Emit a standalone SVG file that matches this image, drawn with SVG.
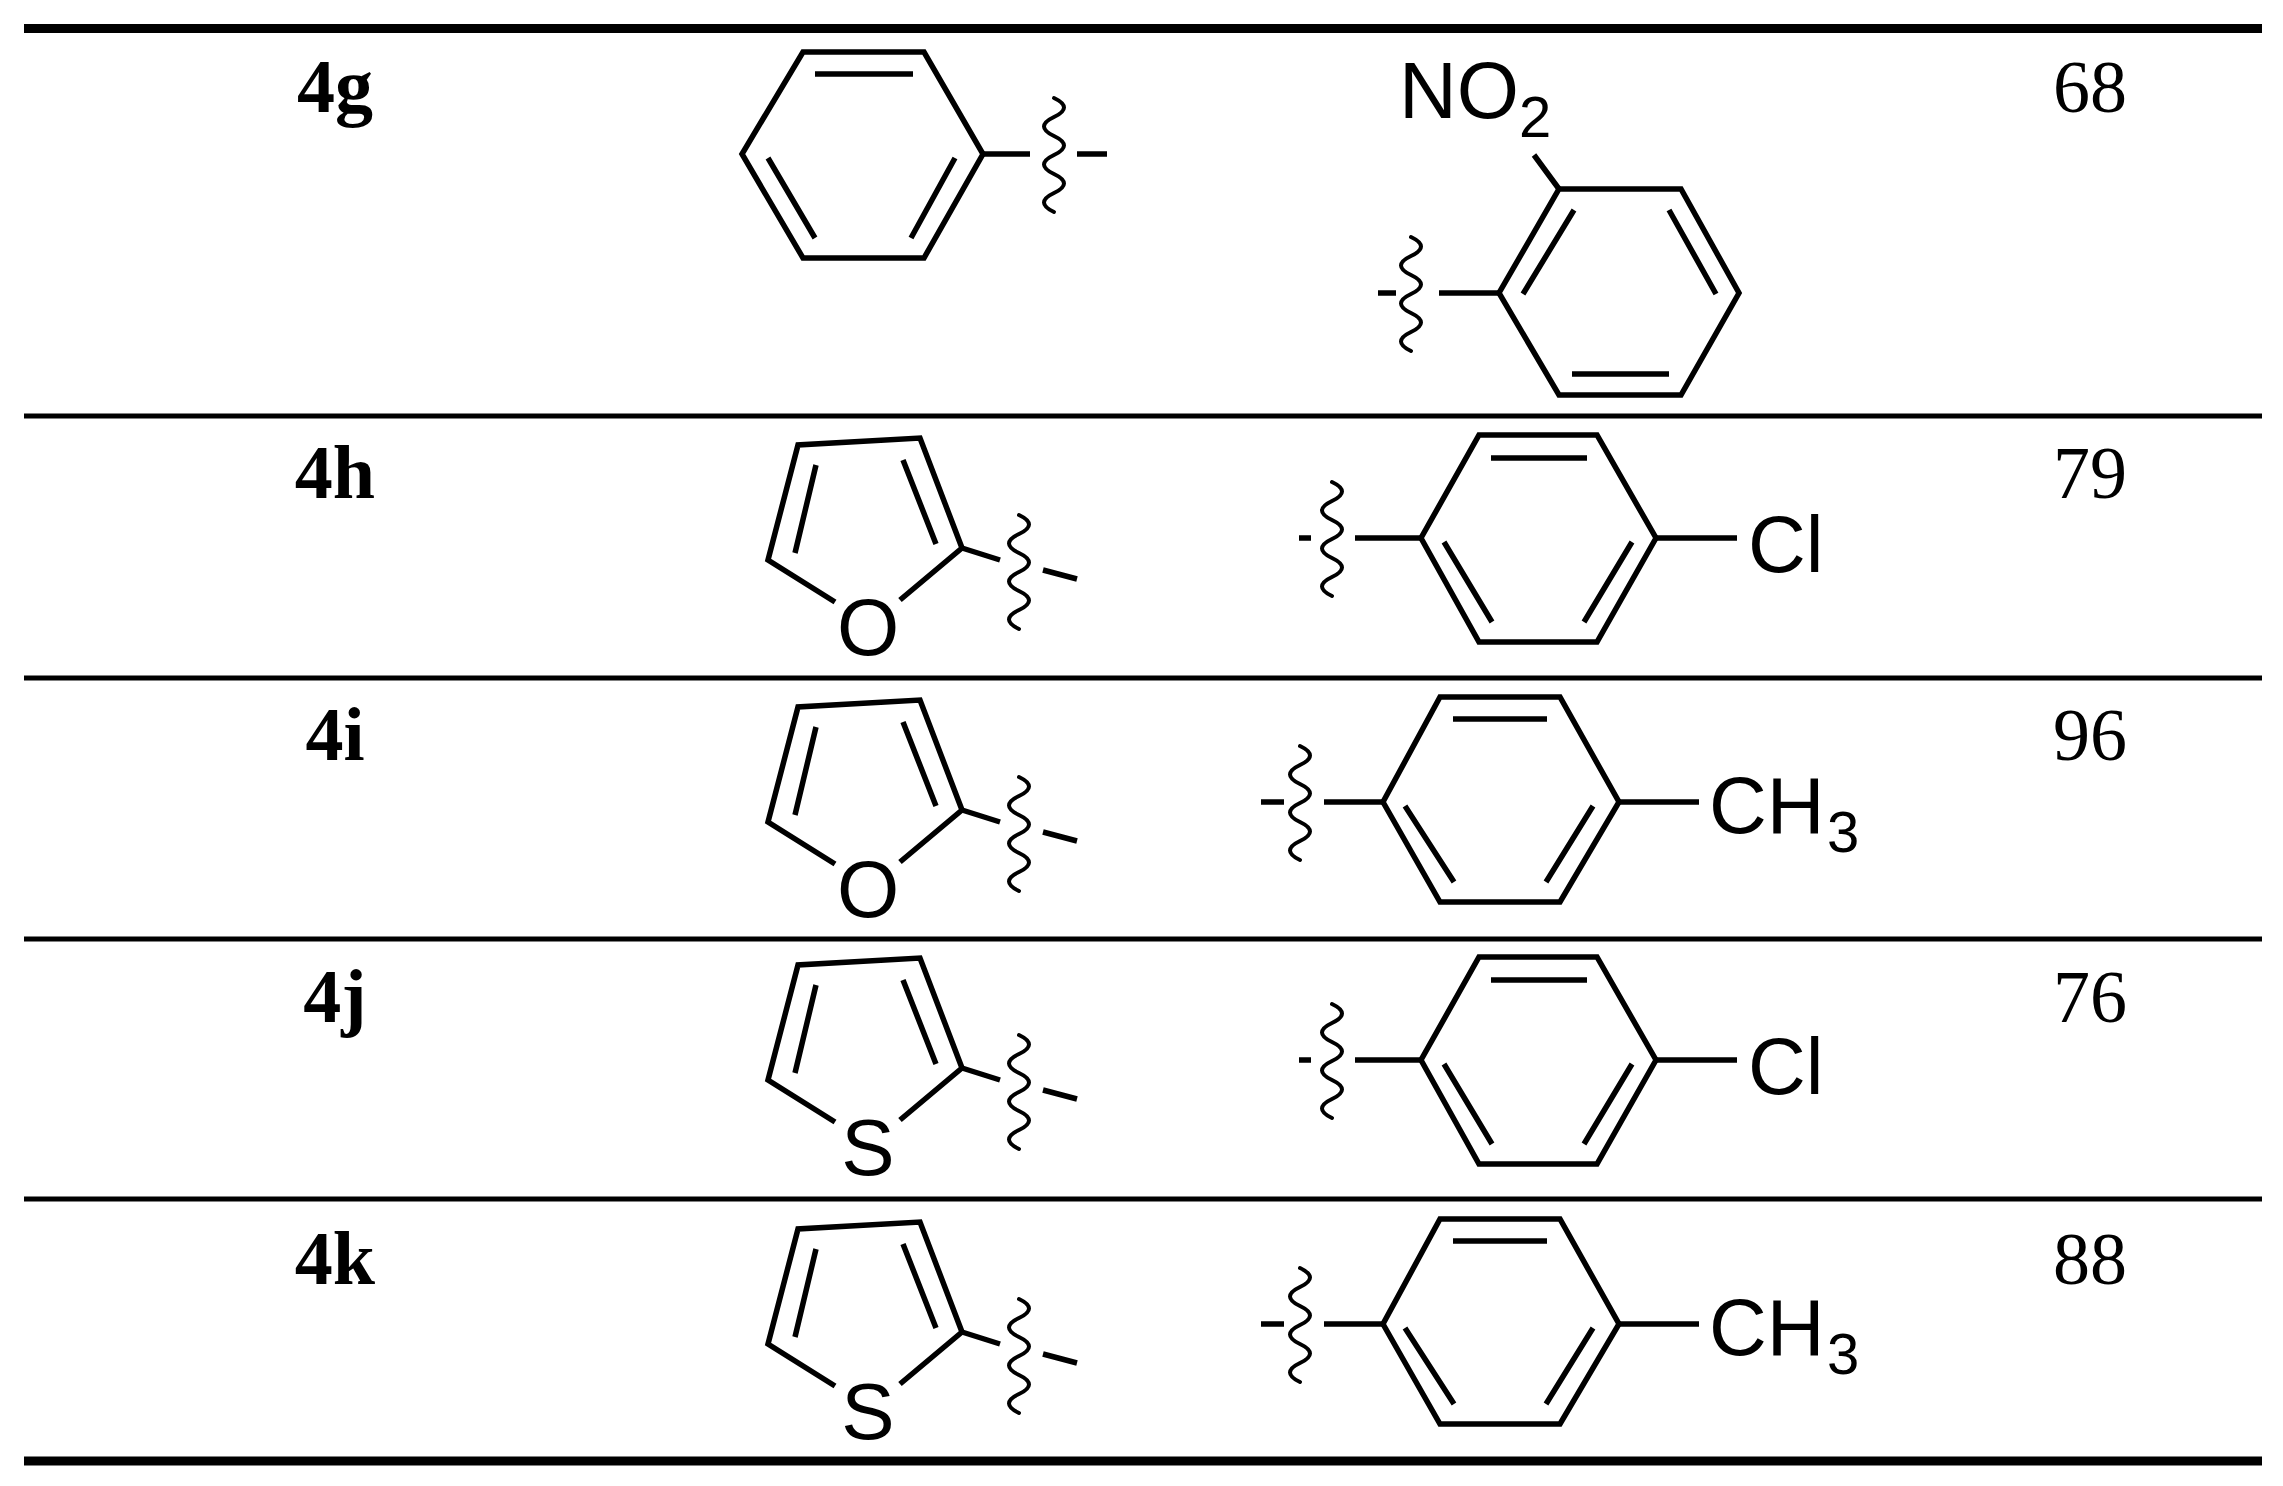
<svg xmlns="http://www.w3.org/2000/svg" xmlns:xlink="http://www.w3.org/1999/xlink" width="2283" height="1486" viewBox="0 0 2283 1486">
<style>
.b{fill:none;stroke:#000;stroke-width:5.5;stroke-linejoin:miter;stroke-linecap:butt}
.w{fill:none;stroke:#000;stroke-width:4;stroke-linecap:round}
.lab{font-family:"Liberation Serif",serif;font-weight:bold;font-size:76px;text-anchor:middle}
.num{font-family:"Liberation Serif",serif;font-size:74px;text-anchor:middle}
.at{font-family:"Liberation Sans",Arial,sans-serif;font-size:80px}
.sub{font-family:"Liberation Sans",Arial,sans-serif;font-size:58px}
</style>
<defs>
<path id="sq" class="w" d="M-3,0 q 20 9.5 0 19 t 0 19 t 0 19 t 0 19 t 0 19 t 0 19"/>
<g id="five">
<path class="b" d="M835,602 L768,560 L798,445 L920,438 L962,548 L900,600"/>
<path class="b" d="M816,465 L795,553 M903,460 L936,544 M962,548 L1000,560 M1043,570 L1077,579"/>
<use xlink:href="#sq" x="1022" y="515"/>
</g>
<g id="ringCl">
<polygon class="b" points="1479,435 1597,435 1656,538 1597,642 1479,642 1421,538"/>
<path class="b" d="M1491,458 L1587,458 M1444,542 L1492,622 M1632,542 L1584,622 M1355,538 L1421,538 M1299,538 L1311,538 M1656,538 L1737,538"/>
<use xlink:href="#sq" x="1335" y="482"/>
<text class="at" x="1748" y="572">Cl</text>
</g>
<g id="ringMe">
<polygon class="b" points="1440,697 1560,697 1619,802 1560,902 1440,902 1383,802"/>
<path class="b" d="M1453,719 L1547,719 M1405,806 L1454,882 M1593,806 L1546,882 M1324,802 L1383,802 M1261,802 L1284,802 M1619,802 L1699,802"/>
<use xlink:href="#sq" x="1303" y="746"/>
<text class="at" x="1709" y="833">CH</text>
<text class="sub" x="1827" y="852">3</text>
</g>
</defs>

<g id="rules">
<line x1="24" y1="28.5" x2="2262" y2="28.5" stroke="#000" stroke-width="9"/>
<line x1="24" y1="416" x2="2262" y2="416" stroke="#000" stroke-width="5"/>
<line x1="24" y1="678" x2="2262" y2="678" stroke="#000" stroke-width="5"/>
<line x1="24" y1="939" x2="2262" y2="939" stroke="#000" stroke-width="5"/>
<line x1="24" y1="1199" x2="2262" y2="1199" stroke="#000" stroke-width="5"/>
<line x1="24" y1="1461" x2="2262" y2="1461" stroke="#000" stroke-width="9"/>
</g>

<g id="row4g">
<text class="lab" x="335" y="112">4g</text>
<polygon class="b" points="803,52 924,52 983,154 924,258 803,258 742,154"/>
<path class="b" d="M815,74 L913,74 M768,158 L815,238 M955,158 L911,238 M983,154 L1030,154 M1077,154 L1107,154"/>
<use xlink:href="#sq" x="1057" y="98"/>
<polygon class="b" points="1559,189 1681,189 1739,293 1681,395 1559,395 1499,293"/>
<path class="b" d="M1574,210 L1523,294 M1669,210 L1716,294 M1572,374 L1669,374 M1534,155 L1559,189 M1439,293 L1499,293 M1378,293 L1396,293"/>
<use xlink:href="#sq" x="1414" y="237"/>
<text class="at" x="1399" y="118">NO</text>
<text class="sub" x="1519" y="137">2</text>
<text class="num" x="2090" y="112">68</text>
</g>

<g id="row4h">
<text class="lab" x="335" y="498">4h</text>
<use xlink:href="#five"/>
<text class="at" x="868" y="655" text-anchor="middle" font-size="74">O</text>
<use xlink:href="#ringCl"/>
<text class="num" x="2090" y="498">79</text>
</g>

<g id="row4i">
<text class="lab" x="335" y="760">4i</text>
<use xlink:href="#five" y="262"/>
<text class="at" x="868" y="917" text-anchor="middle" font-size="74">O</text>
<use xlink:href="#ringMe"/>
<text class="num" x="2090" y="760">96</text>
</g>

<g id="row4j">
<text class="lab" x="335" y="1022">4j</text>
<use xlink:href="#five" y="520"/>
<text class="at" x="868" y="1175" text-anchor="middle" font-size="74">S</text>
<use xlink:href="#ringCl" y="522"/>
<text class="num" x="2090" y="1022">76</text>
</g>

<g id="row4k">
<text class="lab" x="335" y="1284">4k</text>
<use xlink:href="#five" y="784"/>
<text class="at" x="868" y="1439" text-anchor="middle" font-size="74">S</text>
<use xlink:href="#ringMe" y="522"/>
<text class="num" x="2090" y="1284">88</text>
</g>
</svg>
